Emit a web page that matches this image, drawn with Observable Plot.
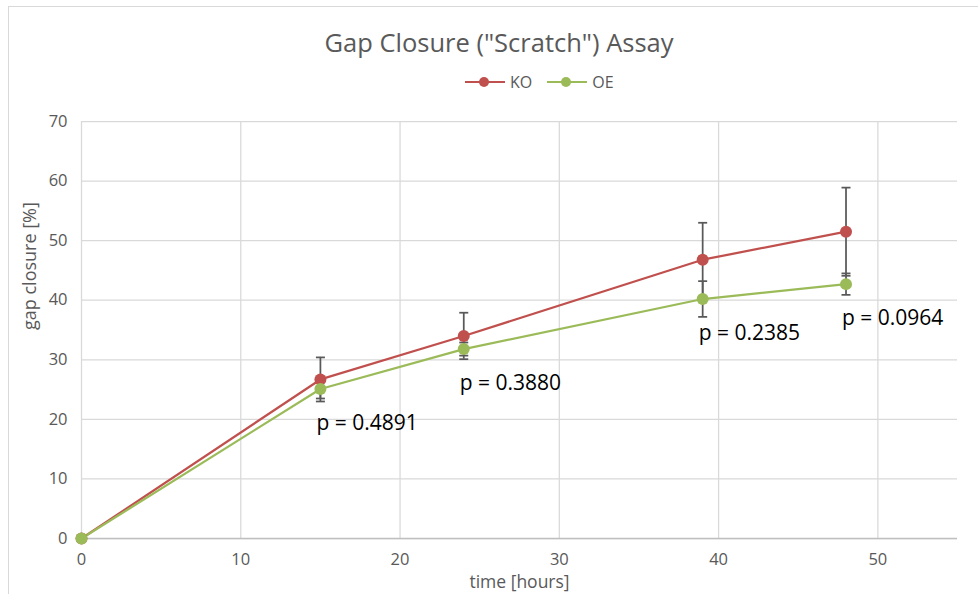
<!DOCTYPE html>
<html>
<head>
<meta charset="utf-8">
<script src="https://cdn.jsdelivr.net/npm/d3@7"></script>
<script src="https://cdn.jsdelivr.net/npm/@observablehq/plot@0.6"></script>
<style>
  html, body { margin: 0; padding: 0; background: #fff; }
  #chart { position: relative; width: 978px; height: 594px; overflow: hidden; font-family: "Open Sans", sans-serif; }
  #frame { position: absolute; left: 8px; top: 6px; width: 1000px; height: 1000px;
           border-left: 1.5px solid #d9d9d9; border-top: 1.5px solid #d9d9d9; box-sizing: border-box; }
  #header { position: relative; height: 100px; }
  #title { position: absolute; left: 0; top: 25px; width: 998px; text-align: center;
           font-size: 25.5px; color: #595959; line-height: 34px; }
  #legend { position: absolute; left: 465px; top: 70px; display: flex; align-items: center;
            font-size: 16px; color: #595959; line-height: 24px; }
  .item { display: flex; align-items: center; margin-right: 15px; }
  .item svg { margin-right: 5px; }
  #plot { position: absolute; left: 0; top: 100px; }
</style>
</head>
<body>
<div id="chart">
  <div id="frame"></div>
  <div id="header">
    <div id="title">Gap Closure ("Scratch") Assay</div>
    <div id="legend"></div>
  </div>
  <div id="plot"></div>
</div>
<script>
// Measurement times (hours) and mean gap closure (%) with error values
const time = [0, 15, 24, 39, 48];
const koMean = [0, 26.7, 34.0, 46.8, 51.5];
const koErr = [0, 3.7, 3.9, 6.2, 7.4];
const oeMean = [0, 25.1, 31.8, 40.2, 42.7];
const oeErr = [0, 1.6, 1.1, 3.0, 1.8];

const seriesNames = ["KO", "OE"];
const seriesColors = ["#c0504d", "#9bbb59"];

// p-values of KO vs OE at each time point after 0
const pTimes = [15, 24, 39, 48];
const pValues = ["0.4891", "0.3880", "0.2385", "0.0964"];

const xTicks = [0, 10, 20, 30, 40, 50];
const yTicks = [0, 10, 20, 30, 40, 50, 60, 70];

const rows = time.flatMap((t, i) => [
  {series: "KO", t, v: koMean[i], e: koErr[i]},
  {series: "OE", t, v: oeMean[i], e: oeErr[i]}
]);
const withErr = rows.filter(d => d.e > 0);
const caps = withErr.flatMap(d => [{...d, y: d.v - d.e}, {...d, y: d.v + d.e}]);
const pRows = pTimes.map((t, i) => ({t, v: oeMean[time.indexOf(t)], label: `p = ${pValues[i]}`}));

// horizontal bar used as the error-bar cap
const capSymbol = {
  draw(context, size) {
    const r = Math.sqrt(size / Math.PI);
    context.moveTo(-r, 0);
    context.lineTo(r, 0);
  }
};

// legend: line with marker + series name
const legend = document.getElementById("legend");
seriesNames.forEach((name, i) => {
  const item = document.createElement("div");
  item.className = "item";
  item.innerHTML = `<svg width="40" height="12"><line x1="0" x2="40" y1="6" y2="6" stroke="${seriesColors[i]}" stroke-width="2"/><circle cx="19" cy="6" r="5" fill="${seriesColors[i]}"/></svg><span>${name}</span>`;
  legend.appendChild(item);
});

const errColor = "#595959";

const chart = Plot.plot({
  width: 978,
  height: 494,
  marginTop: 21,
  marginBottom: 56,
  marginLeft: 81,
  marginRight: 21,
  style: {fontFamily: "Open Sans, sans-serif", fontSize: "16px", color: "#595959", background: "transparent", overflow: "visible"},
  x: {domain: [0, 55]},
  y: {domain: [0, 70]},
  color: {domain: seriesNames, range: seriesColors},
  marks: [
    Plot.gridY(yTicks, {stroke: "#d9d9d9", strokeOpacity: 1, strokeWidth: 1.25}),
    Plot.gridX(xTicks, {stroke: "#d9d9d9", strokeOpacity: 1, strokeWidth: 1.25}),
    Plot.ruleY([0], {stroke: "#bfbfbf", strokeWidth: 1.5}),
    Plot.axisY(yTicks, {tickSize: 0, tickPadding: 14, label: null, fontSize: 16.5}),
    Plot.axisX(xTicks, {tickSize: 0, tickPadding: 15, label: null, fontSize: 16.5}),
    Plot.text(["gap closure [%]"], {frameAnchor: "left", dx: -51, rotate: -90, fontSize: 18, fill: "#595959"}),
    Plot.text(["time [hours]"], {frameAnchor: "bottom", dy: 49, fontSize: 17.5, fill: "#595959"}),
    Plot.line(rows, {x: "t", y: "v", stroke: "series", strokeWidth: 2.25}),
    Plot.ruleX(withErr, {x: "t", y1: d => d.v - d.e, y2: d => d.v + d.e, stroke: errColor, strokeWidth: 1.75}),
    Plot.dot(caps, {x: "t", y: "y", symbol: capSymbol, r: 4.5, stroke: errColor, fill: "none", strokeWidth: 1.75}),
    Plot.dot(rows, {x: "t", y: "v", fill: "series", r: 6}),
    Plot.text(pRows, {x: "t", y: "v", text: "label", textAnchor: "start", dx: -4, dy: 34, fontSize: 21, fill: "#000"})
  ]
});
document.getElementById("plot").appendChild(chart);
</script>
</body>
</html>
